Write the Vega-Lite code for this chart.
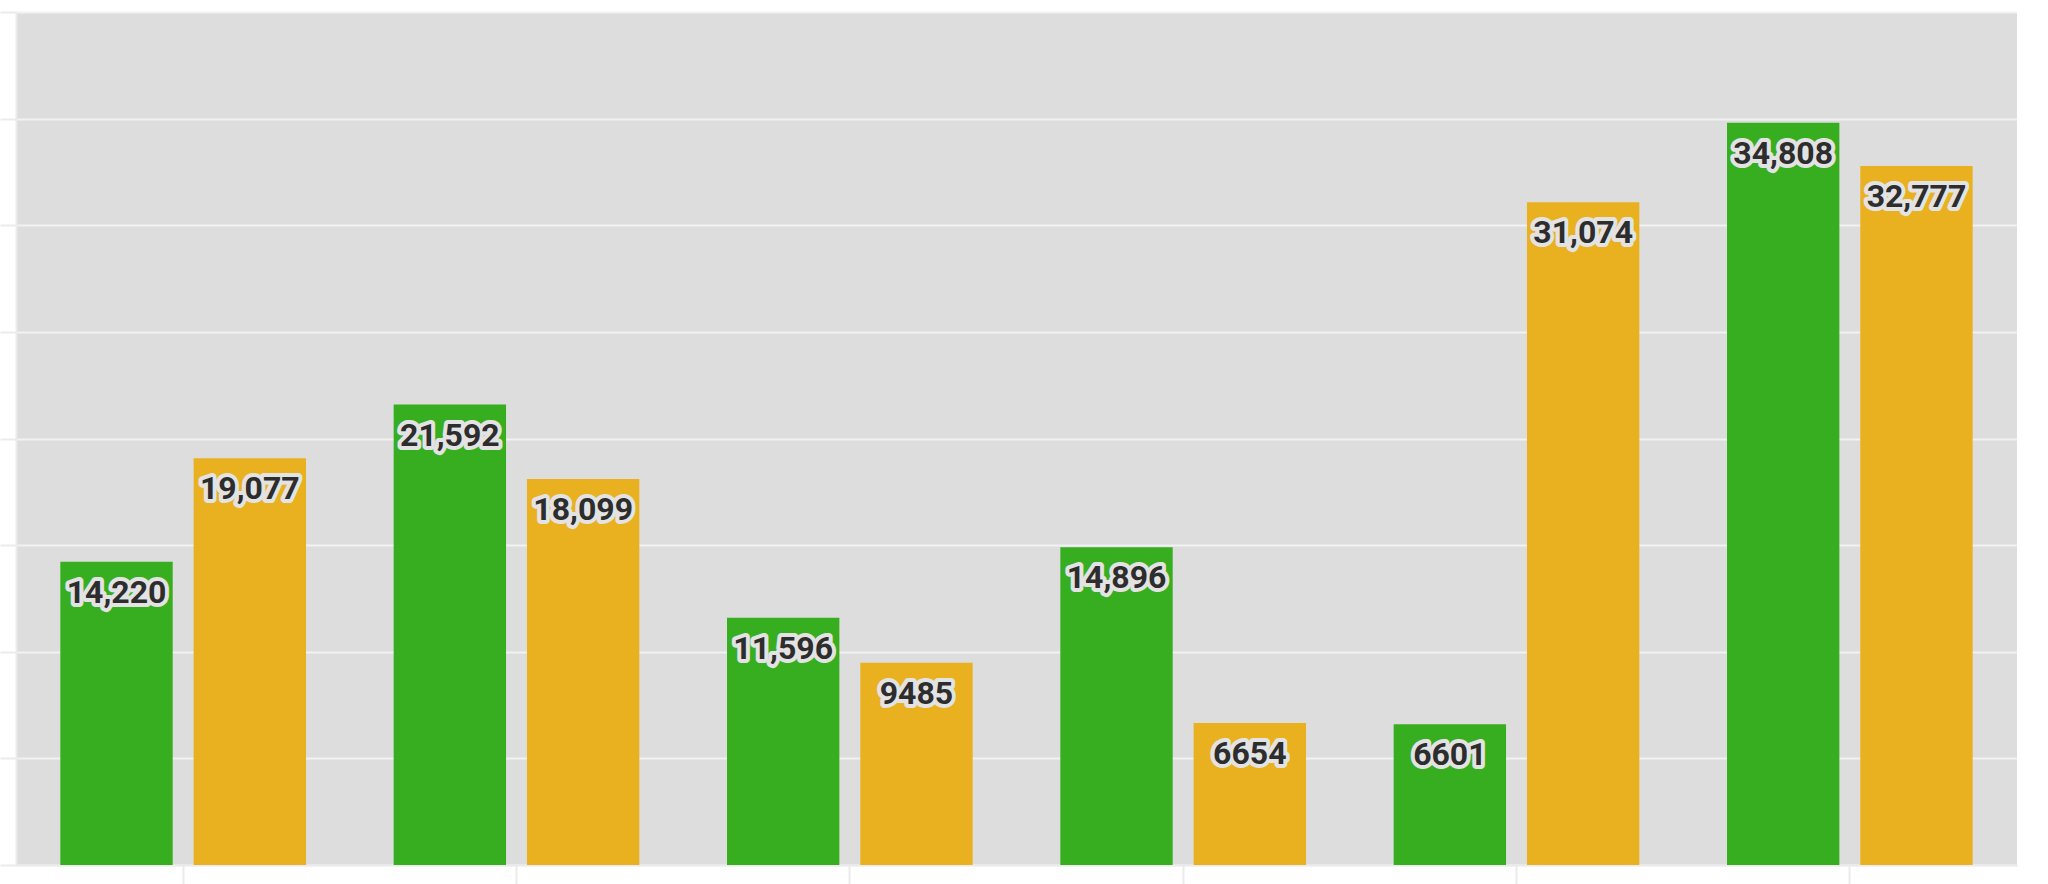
{
  "$schema": "https://vega.github.io/schema/vega-lite/v6.json",
  "width": 2001,
  "height": 853,
  "autosize": {"type": "none"},
  "padding": {"left": 16, "top": 12, "right": 31, "bottom": 19},
  "background": "#ffffff",
  "config": {"view": {"fill": "#dddddd", "stroke": null}},
  "data": {
    "values": [
      {"group": "G1", "series": "S1", "value": 14220},
      {"group": "G1", "series": "S2", "value": 19077},
      {"group": "G2", "series": "S1", "value": 21592},
      {"group": "G2", "series": "S2", "value": 18099},
      {"group": "G3", "series": "S1", "value": 11596},
      {"group": "G3", "series": "S2", "value": 9485},
      {"group": "G4", "series": "S1", "value": 14896},
      {"group": "G4", "series": "S2", "value": 6654},
      {"group": "G5", "series": "S1", "value": 6601},
      {"group": "G5", "series": "S2", "value": 31074},
      {"group": "G6", "series": "S1", "value": 34808},
      {"group": "G6", "series": "S2", "value": 32777}
    ]
  },
  "encoding": {
    "x": {
      "field": "group",
      "type": "nominal",
      "sort": null,
      "scale": {"paddingInner": 0.263, "paddingOuter": 0.133},
      "axis": {"labels": false, "title": null, "grid": false, "tickSize": 22, "tickWidth": 2, "tickColor": "#ebebeb", "domainColor": "#ebebeb", "domainWidth": 2}
    },
    "xOffset": {
      "field": "series",
      "type": "nominal",
      "sort": null,
      "scale": {"paddingInner": 0.157, "paddingOuter": 0}
    },
    "y": {
      "field": "value",
      "type": "quantitative",
      "scale": {"domain": [0, 40000], "nice": false, "zero": true},
      "axis": {"labels": false, "title": null, "values": [0, 5000, 10000, 15000, 20000, 25000, 30000, 35000, 40000], "tickSize": 16, "tickWidth": 2, "tickColor": "#ebebeb", "gridColor": "#f2f2f2", "gridWidth": 2, "domainColor": "#ebebeb", "domainWidth": 2}
    }
  },
  "layer": [
    {
      "mark": {"type": "bar"},
      "encoding": {
        "color": {"field": "series", "type": "nominal", "scale": {"domain": ["S1", "S2"], "range": ["#37ae20", "#e9b11f"]}, "legend": null}
      }
    },
    {
      "mark": {"type": "text", "baseline": "middle", "align": "center", "dy": 31, "font": "Roboto", "fontWeight": "bold", "fontSize": 32, "fill": "#e3e3e3", "stroke": "#e3e3e3", "strokeWidth": 8, "strokeJoin": "round"},
      "encoding": {
        "text": {"condition": {"test": "datum.value >= 10000", "field": "value", "format": ","}, "field": "value", "type": "quantitative", "format": "d"}
      }
    },
    {
      "mark": {"type": "text", "baseline": "middle", "align": "center", "dy": 31, "font": "Roboto", "fontWeight": "bold", "fontSize": 32, "fill": "#2d2d2d"},
      "encoding": {
        "text": {"condition": {"test": "datum.value >= 10000", "field": "value", "format": ","}, "field": "value", "type": "quantitative", "format": "d"}
      }
    }
  ]
}
